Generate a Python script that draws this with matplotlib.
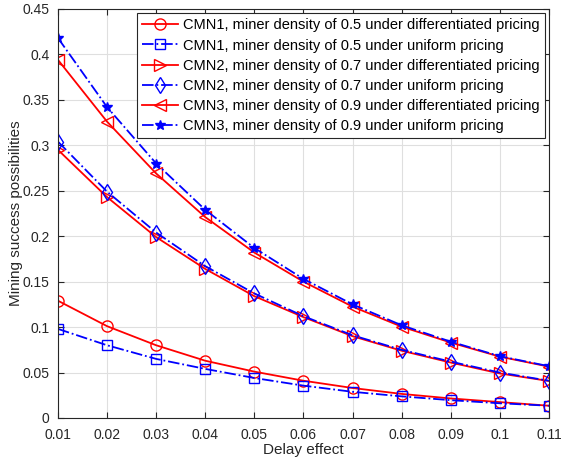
import matplotlib.pyplot as plt

# delay effect values on x axis
delay = [0.01, 0.02, 0.03, 0.04, 0.05, 0.06, 0.07, 0.08, 0.09, 0.10, 0.11]

# mining success possibilities
cmn1_diff = [0.129, 0.101, 0.080, 0.063, 0.051, 0.041, 0.033, 0.0265, 0.0215, 0.0175, 0.0135]
cmn1_unif = [0.098, 0.080, 0.065, 0.054, 0.044, 0.0356, 0.0288, 0.0238, 0.0196, 0.0162, 0.0135]
cmn2_diff = [0.295, 0.243, 0.199, 0.164, 0.134, 0.111, 0.090, 0.074, 0.061, 0.049, 0.0407]
cmn2_unif = [0.304, 0.249, 0.204, 0.167, 0.137, 0.112, 0.091, 0.075, 0.062, 0.050, 0.041]
cmn3_diff = [0.394, 0.326, 0.269, 0.221, 0.182, 0.150, 0.1225, 0.1005, 0.083, 0.0675, 0.0565]
cmn3_unif = [0.418, 0.342, 0.280, 0.229, 0.187, 0.153, 0.125, 0.102, 0.084, 0.068, 0.057]

labels = [
    "CMN1, miner density of 0.5 under differentiated pricing",
    "CMN1, miner density of 0.5 under uniform pricing",
    "CMN2, miner density of 0.7 under differentiated pricing",
    "CMN2, miner density of 0.7 under uniform pricing",
    "CMN3, miner density of 0.9 under differentiated pricing",
    "CMN3, miner density of 0.9 under uniform pricing",
]

plt.rcParams['font.family'] = ['Liberation Sans', 'DejaVu Sans']

fig = plt.figure(figsize=(5.61, 4.61), dpi=100)
ax = fig.add_axes([0.1034, 0.0933, 0.8750, 0.8872])

red = '#ff0000'
blue = '#0000ff'
ax.plot(delay, cmn1_diff, '-', color=red, marker='o', mfc='none', ms=8, lw=1.3, label=labels[0])
ax.plot(delay, cmn1_unif, '-.', color=blue, marker='s', mfc='none', ms=6.5, lw=1.3, label=labels[1])
ax.plot(delay, cmn2_diff, '-', color=red, marker='>', mfc='none', ms=8, lw=1.3, label=labels[2])
ax.plot(delay, cmn2_unif, '-.', color=blue, marker='d', mfc='none', ms=8, lw=1.3, label=labels[3])
ax.plot(delay, cmn3_diff, '-', color=red, marker='<', mfc='none', ms=8, lw=1.3, label=labels[4])
ax.plot(delay, cmn3_unif, '-.', color=blue, marker='*', ms=7, lw=1.3, label=labels[5])

ax.set_xlim(0.01, 0.11)
ax.set_ylim(0, 0.45)
ax.set_xticks(delay)
ax.set_xticklabels(["0.01", "0.02", "0.03", "0.04", "0.05", "0.06", "0.07", "0.08", "0.09", "0.1", "0.11"])
ax.set_yticks([0, 0.05, 0.1, 0.15, 0.2, 0.25, 0.3, 0.35, 0.4, 0.45])
ax.set_yticklabels(["0", "0.05", "0.1", "0.15", "0.2", "0.25", "0.3", "0.35", "0.4", "0.45"])
ax.tick_params(direction='in', top=True, right=True, labelsize=10, colors='#262626', length=4)
ax.tick_params(axis='x', pad=7)
ax.tick_params(axis='y', pad=6)
for s in ax.spines.values():
    s.set_color('#262626')
    s.set_linewidth(0.8)
ax.grid(True, color='#dfdfdf', linewidth=0.8)
ax.set_axisbelow(True)

ax.set_xlabel("Delay effect", fontsize=11, color='#262626', labelpad=1)
ax.set_ylabel("Mining success possibilities", fontsize=11, color='#262626', labelpad=0)

leg = ax.legend(loc='upper right', fontsize=10.5, frameon=True, fancybox=False,
                edgecolor='#262626', framealpha=1, borderpad=0.35, labelspacing=0.42,
                handlelength=2.5, handletextpad=0.3, borderaxespad=0.3)
leg.get_frame().set_linewidth(0.8)

fig.savefig("out.png", dpi=100)
